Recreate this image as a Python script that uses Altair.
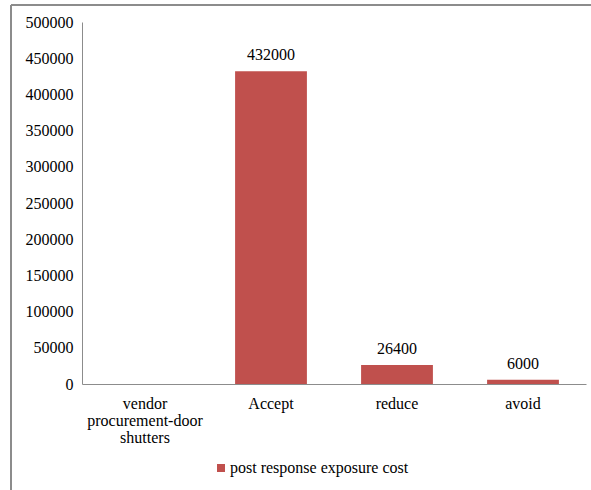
import altair as alt
import pandas as pd

categories = ["vendor procurement-door shutters", "Accept", "reduce", "avoid"]
values = [None, 432000, 26400, 6000]
series_name = "post response exposure cost"
y_ticks = [0, 50000, 100000, 150000, 200000, 250000, 300000, 350000, 400000, 450000, 500000]

df = pd.DataFrame({"category": categories, "value": values, "series": series_name})

FONT = "Liberation Serif"
BAR = "#C0504D"

base = alt.Chart(df)

x_axis = alt.Axis(labelAngle=0, labelExpr="split(datum.label, ' ')",
                  labelLineHeight=17, labelPadding=11, labelBaseline="top")
y_axis = alt.Axis(values=y_ticks, tickCount=11, labelPadding=9, labelOverlap=False,
                  labelFlush=False, format="d")
x_scale = alt.Scale(paddingInner=0.43, paddingOuter=0.215)
y_scale = alt.Scale(domain=[0, 500000], nice=False)

bars = base.mark_bar(color=BAR).encode(
    x=alt.X("category:N", sort=categories, title=None, scale=x_scale, axis=x_axis),
    y=alt.Y("value:Q", title=None, scale=y_scale, axis=y_axis),
    color=alt.Color("series:N", scale=alt.Scale(domain=[series_name], range=[BAR]),
                    legend=alt.Legend(title=None, orient="none", legendX=131, legendY=438,
                                      symbolType="square", symbolSize=64,
                                      symbolStrokeWidth=0, labelOffset=1,
                                      labelLimit=400)),
)

labels = base.mark_text(fontSize=16, color="#000000", dy=-16).encode(
    x=alt.X("category:N", sort=categories, title=None, scale=x_scale, axis=x_axis),
    y=alt.Y("value:Q", title=None, scale=y_scale, axis=y_axis),
    text=alt.Text("value:Q", format="d"),
)

border_top = base.mark_rule(color="#8c8c8c", strokeWidth=2, clip=False).encode(
    x=alt.value(-71), x2=alt.value(520), y=alt.value(-17))
border_left = base.mark_rule(color="#8c8c8c", strokeWidth=2, clip=False).encode(
    x=alt.value(-71), y=alt.value(-17), y2=alt.value(480))

chart = alt.layer(border_top, border_left, bars, labels).properties(
    width=504, height=362,
    autosize=alt.AutoSizeParams(type="none"),
    padding={"left": 82, "top": 22, "right": 5, "bottom": 106},
    background="#ffffff",
).configure(font=FONT).configure_view(stroke=None).configure_axis(
    grid=False, ticks=False, labelFont=FONT, labelFontSize=16, labelColor="#000000",
    domainColor="#8c8c8c", labelOverlap=False,
).configure_legend(labelFont=FONT, labelFontSize=16, labelColor="#000000"
).configure_text(font=FONT)

chart.save("out.html", embed_options={"renderer": "svg", "actions": False})
